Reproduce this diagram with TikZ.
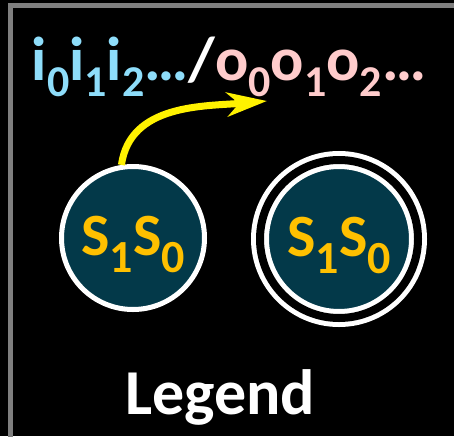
\documentclass[tikz,border=0pt]{standalone}
\usepackage{fontspec}
\setmainfont{Carlito}
\usepackage{xcolor}
\usetikzlibrary{positioning, arrows.meta}

\definecolor{statefill}{RGB}{3,57,73}
\definecolor{stategold}{RGB}{255,192,0}
\definecolor{inblue}{RGB}{142,221,250}
\definecolor{outpink}{RGB}{255,204,204}
\definecolor{framegray}{RGB}{127,127,127}

% lowered index: size, drop, text
\newcommand{\idx}[3]{\raisebox{-#2pt}{\fontsize{#1pt}{#1pt}\selectfont #3}}

\begin{document}
\begin{tikzpicture}[
  x=1pt, y=-1pt,
  font=\bfseries,
  state/.style={draw=white, circle, line width=5pt, fill=statefill, inner sep=0pt,
    minimum size=143pt, text=stategold, text height=38pt, text depth=4pt,
    font=\bfseries\fontsize{60pt}{60pt}\selectfont},
  accepting/.style={state, double=black, double distance=8pt, minimum size=158pt},
  arrow/.style={-{Stealth[length=40pt, width=24pt, inset=12pt]}, line width=7pt, yellow}
]

% Canvas
\fill[black] (0,0) rectangle (454,436);
\useasboundingbox (0,0) rectangle (454,436);
\clip (0,0) rectangle (454,436);
\draw[framegray, line width=5pt] (10.5,470) -- (10.5,5.5) -- (480,5.5);

% Nodes
\node[anchor=base, font=\bfseries\fontsize{62pt}{62pt}\selectfont] (label) at (229,80)
  {\textcolor{inblue}{i\idx{44}{16}{0}i\idx{44}{16}{1}i\idx{44}{16}{2}…}\textcolor{white}{/}\textcolor{outpink}{o\idx{44}{16}{0}o\idx{44}{16}{1}o\idx{44}{16}{2}…}};
\node[state] (plain) at (133,238) {S\idx{46}{17}{1}S\idx{46}{17}{0}};
\node[accepting] (final) at (339,239) {S\idx{46}{17}{1}S\idx{46}{17}{0}};
\node[anchor=base, text=white, font=\bfseries\fontsize{64pt}{64pt}\selectfont] (legend) at (220,414) {Legend};
\coordinate (output) at (267,101);

% Arrows
\draw[arrow] (plain.99) to[out=82, in=185] (output);

\end{tikzpicture}
\end{document}
